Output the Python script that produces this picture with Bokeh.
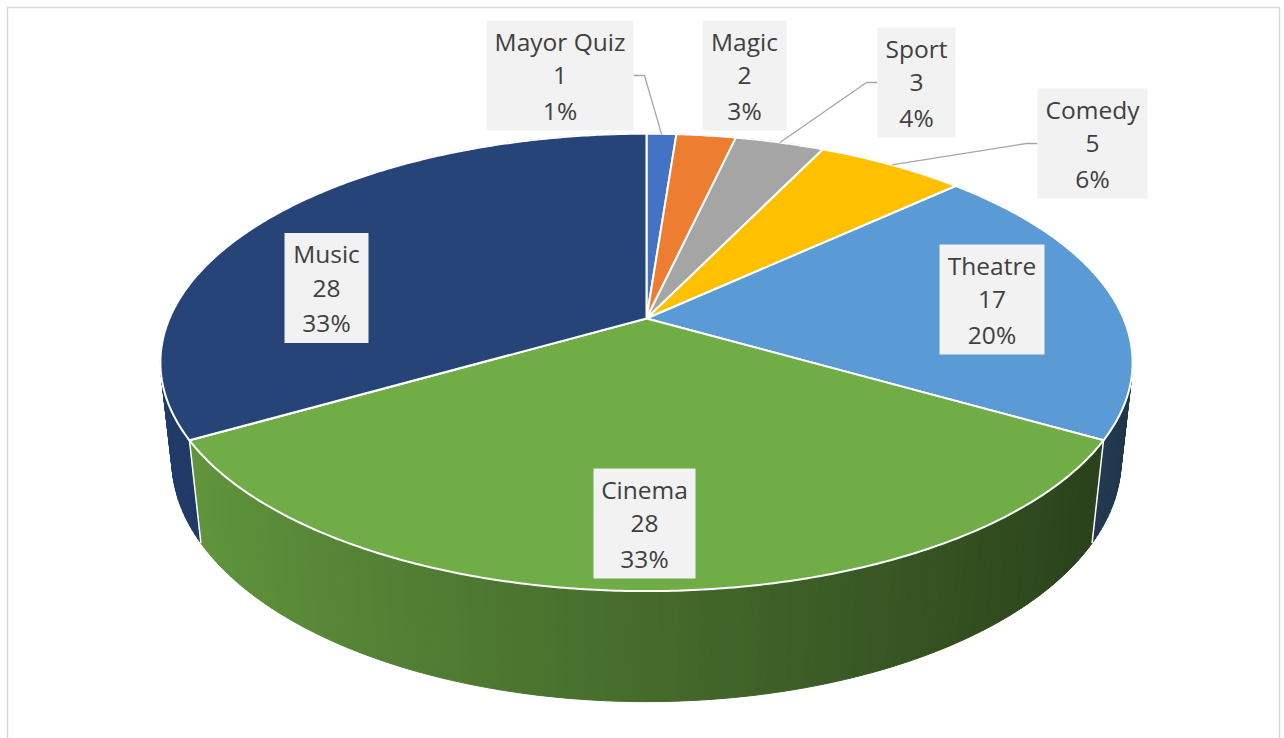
import numpy as np
from bokeh.plotting import figure
from bokeh.models import Range1d
from bokeh.embed import file_html
from bokeh.resources import INLINE
from bokeh.core.properties import value

# ---------------- data ----------------
categories = ["Mayor Quiz", "Magic", "Sport", "Comedy", "Theatre", "Cinema", "Music"]
values = [1, 2, 3, 5, 17, 28, 28]
pct_labels = ["1%", "3%", "4%", "6%", "20%", "33%", "33%"]
colors = ["#4472C4", "#ED7D31", "#A5A5A5", "#FFC000", "#5B9BD5", "#70AD47", "#264478"]

# ---------------- layout / style ----------------
W, H = 1284, 738
CX, CY = 646, 318          # screen position of the pie centre
F, L = 2204.0, 4.62        # perspective camera
PHI = np.radians(27.5)     # elevation
THICK = 0.232              # pie thickness (radius units)

# label box centres (screen px) and widths
label_pos = {
    "Mayor Quiz": (559.5, 75, 147),
    "Magic": (744, 75, 84),
    "Sport": (916, 82, 78),
    "Comedy": (1092, 143, 110),
    "Theatre": (991.5, 299, 105),
    "Music": (326, 287.5, 84),
    "Cinema": (644, 523, 102),
}
leader = {"Mayor Quiz": "right", "Sport": "left", "Comedy": "left"}
BOX_H = 110
LINE_GAP = 34.5


def project(X, Y, Z):
    depth = L - Y * np.sin(PHI) + Z * np.cos(PHI)
    sx = CX + F * X / depth
    yup = F * (Y * np.cos(PHI) + Z * np.sin(PHI)) / depth
    return sx, H - CY + yup


def rim(theta_deg, Y=0.0):
    t = np.radians(theta_deg)
    return project(np.sin(t), Y, np.cos(t))


def shade(hexcol, f):
    r, g, b = int(hexcol[1:3], 16), int(hexcol[3:5], 16), int(hexcol[5:7], 16)
    return "#%02x%02x%02x" % tuple(int(max(0, min(255, c * f))) for c in (r, g, b))


total = float(sum(values))
bounds = np.concatenate([[0], np.cumsum(values)]) / total * 360.0

p = figure(width=W, height=H, x_range=Range1d(0, W), y_range=Range1d(0, H),
           output_backend="svg", toolbar_location=None, min_border=0)
p.axis.visible = False
p.grid.visible = False
p.outline_line_color = None
p.background_fill_color = "white"
p.border_fill_color = "white"

# chart frame
p.multi_line(xs=[[7, 7, 1279, 1279]], ys=[[-10, H - 7, H - 7, -10]],
             line_color="#D9D9D9", line_width=1.5)

# ---------------- side strips ----------------
sx_list, sy_list, scol, sz = [], [], [], []
for i in range(len(values)):
    a0, a1 = bounds[i], bounds[i + 1]
    n = max(2, int(np.ceil((a1 - a0) / 1.0)))
    ang = np.linspace(a0, a1, n + 1)
    for j in range(n):
        t0, t1 = ang[j], ang[j + 1]
        x0, y0 = rim(t0)
        x1, y1 = rim(t1)
        x2, y2 = rim(t1, -THICK)
        x3, y3 = rim(t0, -THICK)
        tm = np.radians(0.5 * (t0 + t1))
        f = 0.62 - 0.28 * np.sin(tm)
        c = shade(colors[i], f)
        sx_list.append([x0, x1, x2, x3])
        sy_list.append([y0, y1, y2, y3])
        scol.append(c)
        sz.append(np.cos(tm))
order = np.argsort(-np.array(sz))
p.patches(xs=[sx_list[k] for k in order], ys=[sy_list[k] for k in order],
          fill_color=[scol[k] for k in order], line_color=[scol[k] for k in order],
          line_width=1)

# visible vertical edges at slice boundaries
ex, ey = [], []
for b in bounds[1:-1]:
    if np.cos(np.radians(b)) < -0.15:
        xa, ya = rim(b)
        xb, yb = rim(b, -THICK)
        ex.append([xa, xb])
        ey.append([ya, yb])
p.multi_line(xs=ex, ys=ey, line_color="white", line_width=1.5)

# ---------------- top faces ----------------
tx, ty = [], []
cx0, cy0 = project(0.0, 0.0, 0.0)
for i in range(len(values)):
    a0, a1 = bounds[i], bounds[i + 1]
    n = max(4, int(np.ceil((a1 - a0) / 0.5)))
    ang = np.linspace(a0, a1, n + 1)
    xs, ys = rim(ang)
    tx.append([cx0] + list(xs))
    ty.append([cy0] + list(ys))
p.patches(xs=tx, ys=ty, fill_color=colors, line_color="white", line_width=2,
          line_join="round")

# ---------------- leader lines ----------------
lx, ly = [], []
for i, cat in enumerate(categories):
    if cat not in leader:
        continue
    bx, by, bw = label_pos[cat]
    mid = 0.5 * (bounds[i] + bounds[i + 1])
    ex_, ey_ = rim(mid)
    if leader[cat] == "right":
        xs_ = [bx + bw / 2, bx + bw / 2 + 11, ex_]
    else:
        xs_ = [bx - bw / 2, bx - bw / 2 - 11, ex_]
    ys_ = [H - by, H - by, ey_]
    lx.append(xs_)
    ly.append(ys_)
p.multi_line(xs=lx, ys=ly, line_color="#A6A6A6", line_width=1.3)

# ---------------- label boxes and text ----------------
bxs, bys, bws = [], [], []
t_x, t_y, t_txt = [], [], []
for i, cat in enumerate(categories):
    bx, by, bw = label_pos[cat]
    bxs.append(bx)
    bys.append(H - by)
    bws.append(bw)
    for k, s in enumerate([cat, str(values[i]), pct_labels[i]]):
        t_x.append(bx)
        t_y.append(H - (by + (k - 1) * LINE_GAP))
        t_txt.append(s)
p.rect(x=bxs, y=bys, width=bws, height=BOX_H, fill_color="#F2F2F2", line_color=None)
p.text(x=t_x, y=t_y, text=t_txt, text_align="center", text_baseline="middle",
       text_font=value("Open Sans"), text_font_size="24.5px", text_color="#404040")

open("out.html", "w").write(file_html(p, INLINE))
